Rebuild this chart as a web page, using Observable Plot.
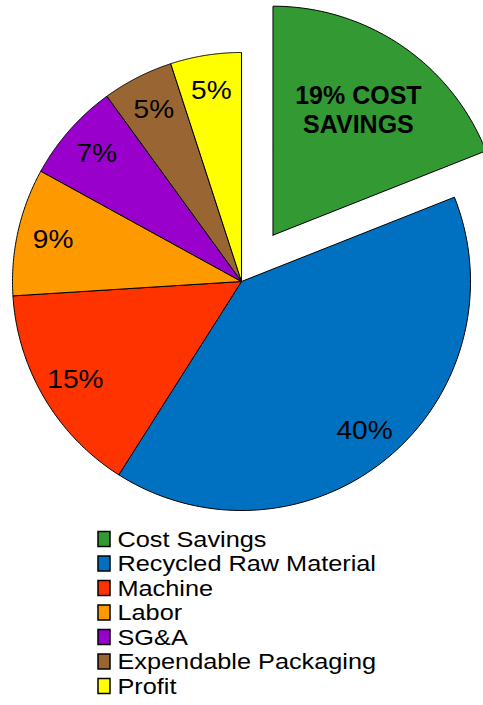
<!DOCTYPE html>
<html>
<head>
<meta charset="utf-8">
<script src="https://cdn.jsdelivr.net/npm/d3@7"></script>
<script src="https://cdn.jsdelivr.net/npm/@observablehq/plot@0.6"></script>
<style>
  html, body { margin: 0; padding: 0; background: #fff; }
  #chart svg { display: block; }
</style>
</head>
<body>
<div id="chart"></div>
<script>
// ---- data ----
const categories = ["Cost Savings", "Recycled Raw Material", "Machine", "Labor", "SG&A", "Expendable Packaging", "Profit"];
const shares = [19, 40, 15, 9, 7, 5, 5];
const sliceLabels = ["19% COST\nSAVINGS", "40%", "15%", "9%", "7%", "5%", "5%"];
const colors = ["#339933", "#0070c0", "#ff3300", "#ff9900", "#9900cc", "#996633", "#ffff00"];

// ---- layout ----
const W = 483, H = 705;
const cx = 241, cy = 281, R = 229;
const explodeIndex = 0, explodeDist = 56;

const arcs = d3.pie().sort(null).value(d => d)(shares);

const slicePts = [];
const labelPts = [];
arcs.forEach((a, i) => {
  const mid = (a.startAngle + a.endAngle) / 2;
  const off = i === explodeIndex ? explodeDist : 0;
  const ox = cx + off * Math.sin(mid), oy = cy - off * Math.cos(mid);
  const cat = categories[i];
  slicePts.push({cat, x: ox, y: oy});
  const n = 90;
  for (let k = 0; k <= n; k++) {
    const t = a.startAngle + (a.endAngle - a.startAngle) * k / n;
    slicePts.push({cat, x: ox + R * Math.sin(t), y: oy - R * Math.cos(t)});
  }
  slicePts.push({cat, x: ox, y: oy});
  const lr = i === explodeIndex ? 152 : 193;
  labelPts.push({
    text: sliceLabels[i],
    x: ox + lr * Math.sin(mid),
    y: oy - lr * Math.cos(mid),
    big: i === explodeIndex
  });
});

const legendRows = categories.map((c, i) => ({cat: c, i, yc: 539 + i * 24.5}));

const font = "Liberation Sans, Arial, Helvetica, sans-serif";

const chart = Plot.plot({
  width: W,
  height: H,
  margin: 0,
  x: {domain: [0, W], range: [0, W], axis: null},
  y: {domain: [0, H], range: [0, H], axis: null},
  color: {domain: categories, range: colors},
  marks: [
    Plot.line(slicePts, {x: "x", y: "y", z: "cat", fill: "cat", stroke: "#000", strokeWidth: 1, strokeLinejoin: "round"}),
    Plot.text(labelPts.filter(d => !d.big), {x: "x", y: "y", text: "text", fontSize: 26, fontFamily: font, fill: "#000", textAnchor: "middle", lineAnchor: "middle"}),
    Plot.text(labelPts.filter(d => d.big), {x: "x", y: "y", text: "text", fontSize: 25, fontWeight: "bold", fontFamily: font, fill: "#000", textAnchor: "middle", lineAnchor: "middle", lineHeight: 1.14}),
    Plot.rect(legendRows, {x1: () => 98, x2: () => 110, y1: d => d.yc - 7.5, y2: d => d.yc + 7.5, fill: "cat", stroke: "#000", strokeWidth: 1.5}),
    Plot.text(legendRows, {x: () => 117, y: "yc", text: "cat", fontSize: 22, fontFamily: font, fill: "#000", textAnchor: "start", lineAnchor: "middle"})
  ]
});

// horizontal stretch of the text glyphs, as in the reference rendering
const textGroups = chart.querySelectorAll('g[aria-label="text"]');
const stretch = [1.08, 1.0, 1.15];
textGroups.forEach((g, gi) => {
  g.querySelectorAll("text").forEach(t => {
    const tr = t.getAttribute("transform") || "";
    t.setAttribute("transform", tr + ` scale(${stretch[gi]},1)`);
  });
});
document.getElementById("chart").append(chart);
</script>
</body>
</html>
